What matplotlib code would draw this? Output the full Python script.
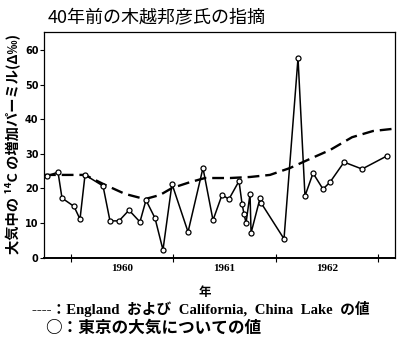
import numpy as np
import matplotlib as mpl
import matplotlib.pyplot as plt

mpl.rcParams['font.family'] = ['Noto Sans CJK JP', 'DejaVu Sans']

# ===================== Data =====================
# Tokyo atmosphere, 14C excess (per mil) vs. time in years
tokyo_year = [1959.765, 1959.873, 1959.912, 1960.029, 1960.088, 1960.137,
              1960.313, 1960.381, 1960.469, 1960.567, 1960.674, 1960.733,
              1960.821, 1960.899, 1960.987, 1961.144, 1961.290, 1961.388,
              1961.476, 1961.544, 1961.642, 1961.672, 1961.691, 1961.711,
              1961.750, 1961.760, 1961.848, 1961.858, 1962.082, 1962.219,
              1962.287, 1962.366, 1962.463, 1962.532, 1962.669, 1962.845,
              1963.089]
tokyo_val = [23.6, 24.7, 17.2, 14.8, 11.1, 23.9,
             20.7, 10.6, 10.6, 13.7, 10.3, 16.6,
             11.4, 2.2, 21.3, 7.4, 25.9, 10.8,
             18.1, 16.9, 22.1, 15.5, 12.6, 10.0,
             18.4, 7.1, 17.2, 15.8, 5.4, 57.7,
             17.8, 24.4, 19.8, 21.8, 27.6, 25.6,
             29.4]

# England and California, China Lake
ref_year = [1959.736, 1960.137, 1960.313, 1960.528, 1960.723, 1960.870,
            1960.987, 1961.163, 1961.310, 1961.554, 1961.750, 1961.945,
            1962.141, 1962.356, 1962.532, 1962.747, 1962.952, 1963.138]
ref_val = [23.9, 23.9, 21.3, 18.4, 16.9, 18.1,
           20.1, 21.8, 23.0, 23.0, 23.3, 23.9,
           25.9, 28.8, 31.1, 34.8, 36.6, 37.2]

years = [1960, 1961, 1962]
yticks = [0, 10, 20, 30, 40, 50, 60]

title_text = '40年前の木越邦彦氏の指摘'
ylabel_text = '大気中の ¹⁴C の増加パーミル(Δ‰)'
xlabel_text = '年'
legend_ref = '----：England  および  California,  China  Lake  の値'
legend_tokyo = '○：東京の大気についての値'

# ===================== Figure =====================
fig = plt.figure(figsize=(4.0, 3.42), dpi=100)
ax = fig.add_axes([0.11, 0.247, 0.8775, 0.659])

ax.plot(ref_year, ref_val, color='black', lw=1.7, ls=(0, (5, 2.5)))
ax.plot(tokyo_year, tokyo_val, color='black', lw=1.1, marker='o',
        markersize=3.6, markerfacecolor='white', markeredgecolor='black',
        markeredgewidth=0.9)

ax.set_xlim(1959.736, 1963.167)
ax.set_ylim(0, 65.2)

# year boundaries as ticks, year names centred between them
ax.set_xticks([1960, 1961, 1962, 1963])
ax.set_xticklabels([])
ax.set_xticks([y + 0.5 for y in years], minor=True)
ax.set_xticklabels([str(y) for y in years], minor=True,
                   family='Liberation Serif', fontweight='bold', fontsize=8)
ax.tick_params(axis='x', which='major', direction='inout', length=6, width=0.8)
ax.tick_params(axis='x', which='minor', length=0, pad=5)

ax.set_yticks(yticks)
ax.set_yticklabels([str(v) for v in yticks], family='DejaVu Sans',
                   fontweight='bold', fontsize=7)
ax.tick_params(axis='y', direction='out', length=3, width=0.8, pad=1)

for side in ['left', 'right', 'top']:
    ax.spines[side].set_linewidth(0.9)
ax.spines['bottom'].set_linewidth(1.4)

fig.text(0.12, 0.947, title_text, fontsize=13, ha='left', va='center')
fig.text(0.03, 0.578, ylabel_text, rotation=90, fontsize=10.3,
         fontweight='bold', ha='center', va='center')
fig.text(0.513, 0.146, xlabel_text, fontsize=9, fontweight='bold',
         ha='center', va='center')
fig.text(0.08, 0.097, legend_ref, fontsize=10.6, fontweight='bold',
         family=['Liberation Serif', 'Noto Sans CJK JP'], ha='left', va='center')
fig.text(0.112, 0.041, legend_tokyo, fontsize=12, fontweight='bold',
         family=['Noto Sans CJK JP', 'DejaVu Sans'], ha='left', va='center')

fig.savefig('out.png', dpi=100)
